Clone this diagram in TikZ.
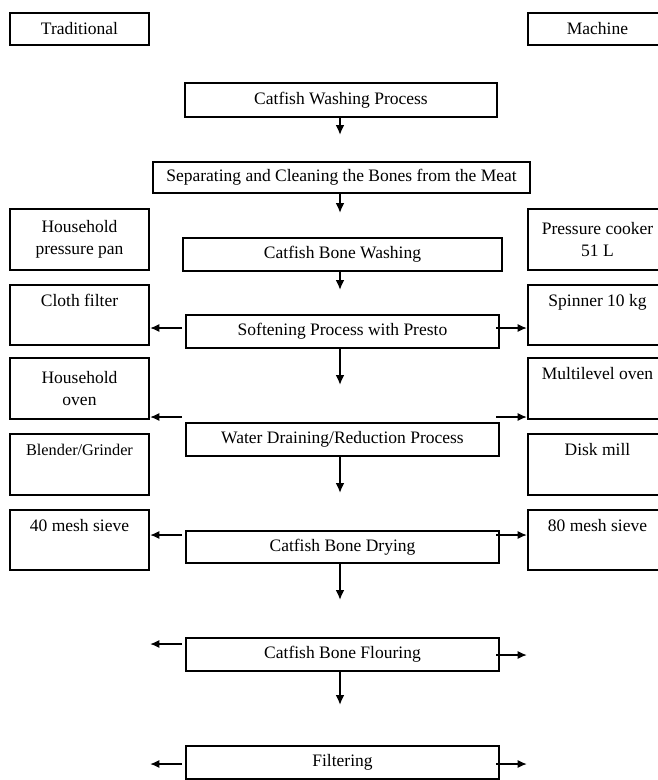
\documentclass[tikz,border=0pt]{standalone}
\usepackage{fontspec}
\setmainfont{Liberation Serif}
\usepackage{tikz}
\usetikzlibrary{arrows.meta}

\begin{document}
\begin{tikzpicture}[x=1pt, y=-1pt]
    \tikzstyle{step-block} = [draw, line width=2.6pt, rectangle, inner sep=0pt, minimum width=313pt, minimum height=33pt, font=\fontsize{17.5}{22.5}\selectfont];
    \tikzstyle{tool-block} = [draw, line width=2.6pt, rectangle, inner sep=0pt, minimum width=139pt, minimum height=61pt, align=center, font=\fontsize{17.5}{22.5}\selectfont];
    \tikzstyle{down} = [line width=2.4pt, -{Latex[length=10pt, width=9pt]}];
    \tikzstyle{pointer} = [line width=1.1pt, -{Latex[length=9pt, width=8pt]}];

    \useasboundingbox (0,0) rectangle (657,780);

    % headers
    \node[tool-block, minimum height=32pt] (trad-0) at (79.5, 29)  {Traditional};
    \node[tool-block, minimum height=32pt] (mach-0) at (597.5, 29) {Machine};

    % main steps
    \node[step-block, minimum width=312pt, minimum height=34pt] (step-1) at (341, 100) {Catfish Washing Process};
    \node[step-block, line width=1.6pt, minimum width=377pt, minimum height=31pt] (step-2) at (341.5, 177.5) {Separating and Cleaning the Bones from the Meat};
    \node[step-block, minimum width=319pt] (step-3) at (342.5, 254.5) {Catfish Bone Washing};
    \node[step-block] (step-4) at (342.5, 331.5) {Softening Process with Presto};
    \node[step-block] (step-5) at (342.5, 439.5) {Water Draining/Reduction Process};
    \node[step-block, minimum height=32pt] (step-6) at (342.5, 547) {Catfish Bone Drying};
    \node[step-block] (step-7) at (342.5, 654.5) {Catfish Bone Flouring};
    \node[step-block] (step-8) at (342.5, 762.5) {Filtering};

    % traditional tools
    \node[tool-block] (trad-1) at (79.5, 239.5) {Household\\pressure pan};
    \node[tool-block, minimum height=60pt] (trad-2) at (79.5, 315) {Cloth filter\\\strut};
    \node[tool-block] (trad-3) at (79.5, 388.5) {Household\\oven};
    \node[tool-block, font=\fontsize{16.3}{22.5}\selectfont] (trad-4) at (79.5, 464.5) {Blender/Grinder\\\strut};
    \node[tool-block, minimum height=60pt] (trad-5) at (79.5, 540) {40 mesh sieve\\\strut};

    % machine tools
    \node[tool-block] (mach-1) at (597.5, 239.5) {Pressure cooker\\51 L};
    \node[tool-block, minimum height=60pt] (mach-2) at (597.5, 315) {Spinner 10 kg\\\strut};
    \node[tool-block] (mach-3) at (597.5, 388.5) {Multilevel oven\\\strut};
    \node[tool-block] (mach-4) at (597.5, 464.5) {Disk mill\\\strut};
    \node[tool-block, minimum height=60pt] (mach-5) at (597.5, 540) {80 mesh sieve\\\strut};

    % flow down
    \coordinate (d-1) at (340, 135);
    \coordinate (d-2) at (340, 213);
    \coordinate (d-3) at (340, 290);
    \coordinate (d-4) at (340, 385);
    \coordinate (d-5) at (340, 493);
    \coordinate (d-6) at (340, 600);
    \coordinate (d-7) at (340, 705);
    \draw [down] (d-1 |- step-1.south) -- (d-1);
    \draw [down] (d-2 |- step-2.south) -- (d-2);
    \draw [down] (d-3 |- step-3.south) -- (d-3);
    \draw [down] (d-4 |- step-4.south) -- (d-4);
    \draw [down] (d-5 |- step-5.south) -- (d-5);
    \draw [down] (d-6 |- step-6.south) -- (d-6);
    \draw [down] (d-7 |- step-7.south) -- (d-7);

    % side pointers
    \coordinate (l-1) at (182, 328);  \coordinate (r-1) at (496, 328);
    \coordinate (l-2) at (182, 417);  \coordinate (r-2) at (496, 417);
    \coordinate (l-3) at (182, 535);  \coordinate (r-3) at (496, 535);
    \coordinate (l-4) at (182, 644);  \coordinate (r-4) at (496, 655);
    \coordinate (l-5) at (182, 764);  \coordinate (r-5) at (496, 764);
    \draw [pointer] (l-1) -- (l-1 -| trad-2.east);
    \draw [pointer] (r-1) -- (r-1 -| mach-2.west);
    \draw [pointer] (l-2) -- (l-2 -| trad-3.east);
    \draw [pointer] (r-2) -- (r-2 -| mach-3.west);
    \draw [pointer] (l-3) -- (l-3 -| trad-5.east);
    \draw [pointer] (r-3) -- (r-3 -| mach-5.west);
    \draw [pointer] (l-4) -- (l-4 -| trad-5.east);
    \draw [pointer] (r-4) -- (r-4 -| mach-5.west);
    \draw [pointer] (l-5) -- (l-5 -| trad-5.east);
    \draw [pointer] (r-5) -- (r-5 -| mach-5.west);
\end{tikzpicture}
\end{document}
